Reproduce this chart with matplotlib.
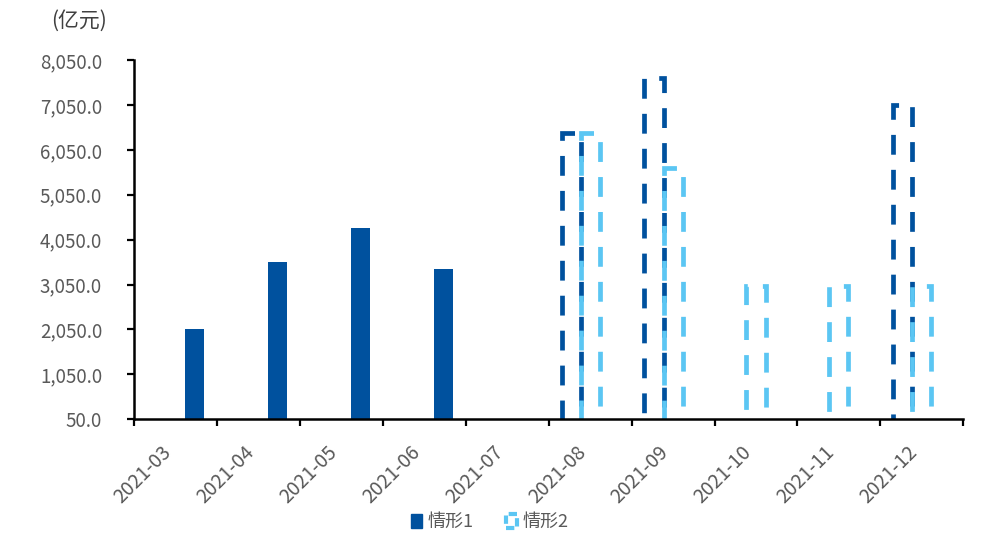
import numpy as np
import matplotlib
matplotlib.use("Agg")
import matplotlib.pyplot as plt
import matplotlib.transforms as mtransforms
from matplotlib.patches import Patch
from matplotlib.ticker import FixedLocator, FuncFormatter

plt.rcParams['font.family'] = ['Noto Sans CJK SC', 'DejaVu Sans']

### data ###
months = ['2021-03', '2021-04', '2021-05', '2021-06', '2021-07',
          '2021-08', '2021-09', '2021-10', '2021-11', '2021-12']
nan = np.nan
case1_actual = [2070, 3550, 4310, 3400, nan, nan, nan, nan, nan, nan]   # 情形1 solid
case1_forecast = [nan, nan, nan, nan, nan, 6430, 7660, nan, nan, 7050]  # 情形1 dashed
case2_forecast = [nan, nan, nan, nan, nan, 6430, 5640, 3020, 3020, 3020]  # 情形2 dashed
y_ticks = [50, 1050, 2050, 3050, 4050, 5050, 6050, 7050, 8050]

DARK = '#00519E'
LIGHT = '#5BC6F3'
GREY = '#595959'
W = 0.23
DASH = (0, (4.2, 3.2))

fig = plt.figure(figsize=(9.85, 5.51), dpi=100)
ax = fig.add_axes([0.136, 0.239, 0.842, 0.652])

x = np.arange(len(months))
ax.bar(x + 0.235, case1_actual, width=W, color=DARK, zorder=3)
ax.bar(x - W, case1_forecast, width=W, fill=False, edgecolor=DARK,
       linewidth=3.4, linestyle=DASH, zorder=2)
ax.bar(x, case2_forecast, width=W, fill=False, edgecolor=LIGHT,
       linewidth=3.4, linestyle=DASH, zorder=2.5)

ax.set_xlim(-0.5, len(months) - 0.5)
ax.set_ylim(50, 8050)
ax.set_yticks(y_ticks)
ax.yaxis.set_major_formatter(FuncFormatter(lambda v, p: f"{v:,.1f}"))

ax.set_xticks(x)
ax.set_xticklabels(months, rotation=45, ha='right', rotation_mode='default')
shift = mtransforms.ScaledTranslation(0.07, 0, fig.dpi_scale_trans)
for lbl in ax.get_xticklabels():
    lbl.set_transform(lbl.get_transform() + shift)
ax.xaxis.set_minor_locator(FixedLocator(np.arange(-0.5, len(months), 1.0)))
ax.tick_params(axis='x', which='major', length=0, pad=16, labelsize=14, labelcolor=GREY)
ax.tick_params(axis='x', which='minor', length=5, width=1.6, direction='out')
ax.tick_params(axis='y', length=5, width=1.6, direction='out', pad=18,
               labelsize=13.5, labelcolor=GREY)

for s in ['top', 'right']:
    ax.spines[s].set_visible(False)
for s in ['left', 'bottom']:
    ax.spines[s].set_linewidth(1.8)
    ax.spines[s].set_zorder(5)

fig.text(0.052, 0.962, '(亿元)', fontsize=15, color='#404040', va='center', ha='left')

handles = [Patch(facecolor=DARK, edgecolor=DARK, label='情形1'),
           Patch(fill=False, edgecolor=LIGHT, linewidth=3, linestyle=(0, (2, 1)), label='情形2')]
fig.legend(handles=handles, loc='center', bbox_to_anchor=(0.497, 0.052), ncol=2,
           frameon=False, fontsize=13, labelcolor=GREY, handlelength=0.6,
           handleheight=0.8, handletextpad=0.3, columnspacing=1.8)

fig.savefig('out.png', dpi=100)
